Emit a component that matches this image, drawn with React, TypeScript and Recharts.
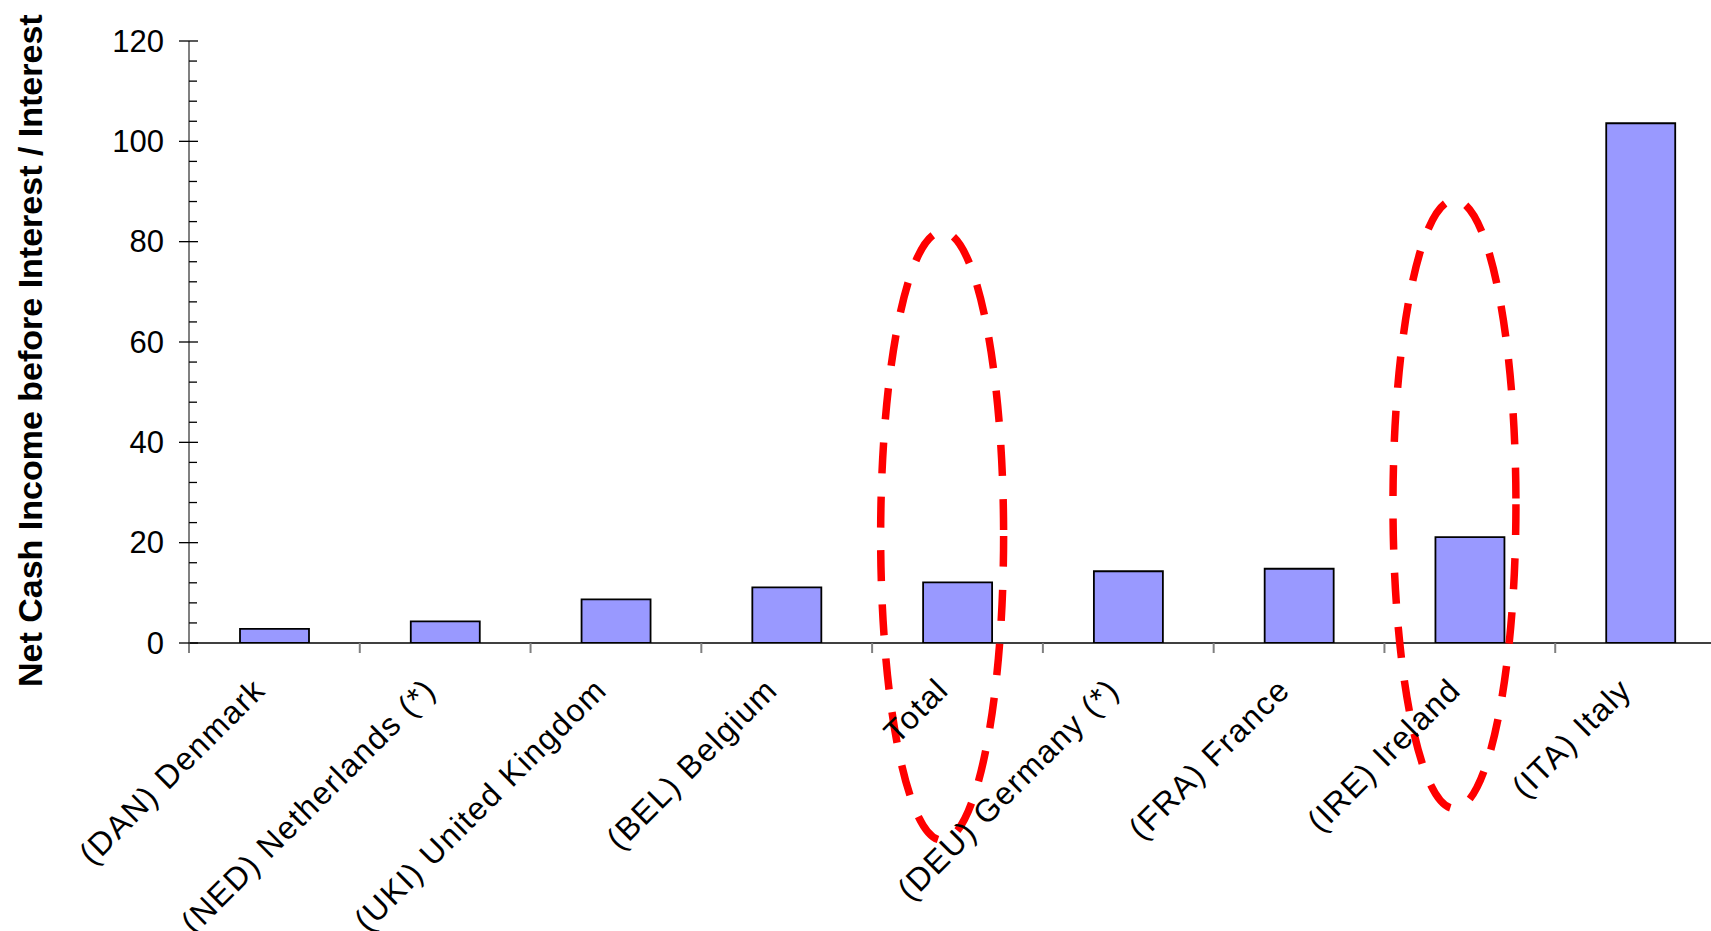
import React from "react";
import { BarChart, Bar, XAxis, YAxis, ReferenceArea } from "recharts";

const FONT = "'Liberation Sans', Arial, sans-serif";

const countries = [
  "(DAN) Denmark",
  "(NED) Netherlands (*)",
  "(UKI) United Kingdom",
  "(BEL) Belgium",
  "Total",
  "(DEU) Germany (*)",
  "(FRA) France",
  "(IRE) Ireland",
  "(ITA) Italy",
];
const ratios = [2.8, 4.3, 8.7, 11.1, 12.1, 14.3, 14.8, 21.1, 103.6];

const majorTicks = [0, 20, 40, 60, 80, 100, 120];
// 4 minor divisions between each pair of major ticks
const allTicks = majorTicks.flatMap((t, i) =>
  i === majorTicks.length - 1 ? [t] : [t, t + 4, t + 8, t + 12, t + 16]
);

// dashed red circles drawn over two categories (value range they span)
const highlightCats = ["Total", "(IRE) Ireland"];
const highlightTop = [82, 88.3];
const highlightBottom = [-39.3, -33];

const data = countries.map((name, i) => ({ name, value: ratios[i] }));

const Y_TICK_SIZE = 10;
const Y_TICK_MARGIN = 15;

function YTick({ x, y, payload }: any) {
  const ax = x + Y_TICK_SIZE + Y_TICK_MARGIN;
  const major = majorTicks.includes(payload.value);
  return (
    <g>
      <line
        x1={major ? ax - 10 : ax}
        x2={ax + (major ? 9 : 8)}
        y1={y}
        y2={y}
        stroke="#000"
        strokeWidth={1.3}
      />
      {major && (
        <text
          x={x}
          y={y}
          textAnchor="end"
          dominantBaseline="central"
          fontSize={31}
          fontFamily={FONT}
          fill="#000"
        >
          {payload.value}
        </text>
      )}
    </g>
  );
}

function XTick({ x, y, payload }: any) {
  const axisY = y - 10;
  const half = payload.offset || 85.4;
  const tx = x - 15;
  const ty = axisY + 41;
  return (
    <g>
      <line x1={x - half} x2={x - half} y1={axisY} y2={axisY + 10} stroke="#808080" strokeWidth={2} />
      <text
        x={tx}
        y={ty}
        transform={`rotate(-45, ${tx}, ${ty})`}
        textAnchor="end"
        dominantBaseline="central"
        fontSize={32}
        letterSpacing={1.5}
        fontFamily={FONT}
        fill="#000"
      >
        {payload.value}
      </text>
    </g>
  );
}

function YTitle({ viewBox }: any) {
  const vb = viewBox || { x: 0, y: 41, width: 189, height: 602 };
  const tx = vb.x + 30;
  const ty = vb.y + vb.height + 44;
  return (
    <text
      x={tx}
      y={ty}
      transform={`rotate(-90, ${tx}, ${ty})`}
      textAnchor="start"
      dominantBaseline="central"
      fontSize={34}
      fontWeight="bold"
      fontFamily={FONT}
      fill="#000"
    >
      Net Cash Income before Interest / Interest
    </text>
  );
}

function Ring(p: any) {
  const { x, y, width, height } = p;
  if (width == null || height == null) return null;
  return (
    <ellipse
      cx={x + width * 0.41}
      cy={y + height / 2}
      rx={width * 0.36}
      ry={Math.abs(height) / 2}
      fill="none"
      stroke="#FF0000"
      strokeWidth={7.5}
      strokeDasharray="31 23"
    />
  );
}

export default function App() {
  return (
    <div
      style={{
        position: "fixed",
        left: 0,
        top: 0,
        width: 1711,
        height: 931,
        overflow: "hidden",
        background: "#fff",
      }}
    >
      <BarChart
        width={1740}
        height={931}
        data={data}
        margin={{ top: 41, right: 14, bottom: 0, left: 0 }}
      >
        <XAxis
          dataKey="name"
          interval={0}
          height={288}
          tickSize={10}
          tickMargin={0}
          tickLine={false}
          axisLine={{ stroke: "#000", strokeWidth: 1.5 }}
          tick={<XTick />}
        />
        <YAxis
          width={189}
          domain={[0, 120]}
          ticks={allTicks}
          interval={0}
          tickSize={Y_TICK_SIZE}
          tickMargin={Y_TICK_MARGIN}
          tickLine={false}
          axisLine={{ stroke: "#808080", strokeWidth: 2 }}
          tick={<YTick />}
          label={<YTitle />}
          allowDataOverflow
        />
        <Bar
          dataKey="value"
          fill="#9999FF"
          stroke="#000"
          strokeWidth={1.8}
          barSize={69}
          isAnimationActive={false}
        />
        {highlightCats.map((cat, i) => (
          <ReferenceArea
            key={cat}
            x1={cat}
            x2={cat}
            y1={highlightBottom[i]}
            y2={highlightTop[i]}
            ifOverflow="visible"
            shape={<Ring />}
            zIndex={600}
          />
        ))}
      </BarChart>
    </div>
  );
}
